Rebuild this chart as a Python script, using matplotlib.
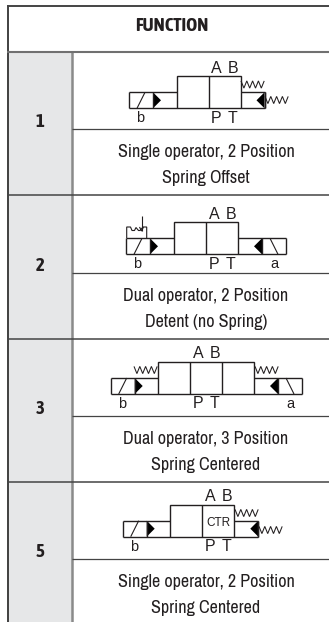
"""Valve function table: numbered rows with solenoid valve symbols."""
import matplotlib
matplotlib.use("Agg")
import matplotlib.pyplot as plt
from matplotlib.patches import Rectangle, Polygon

W, H = 329, 622
BODY = ['Archivo Narrow', 'Liberation Sans']
BOLD = ['Asap Condensed', 'Liberation Sans']
LABEL = ['Liberation Sans', 'DejaVu Sans']
DARK = '#231f20'

numbers = ['1', '2', '3', '5']
line1 = ['Single operator, 2 Position', 'Dual operator, 2 Position',
         'Dual operator, 3 Position', 'Single operator, 2 Position']
line2 = ['Spring Offset', 'Detent (no Spring)', 'Spring Centered', 'Spring Centered']

# row layout in pixels: row top, symbol/text split, row bottom
row_top = [52, 195, 339, 482]
row_mid = [129, 273, 416, 559]

# symbol layout: main block left edge, top, cells, left and right ends
sym_x = [176.5, 174.3, 158.3, 170.3]
sym_y = [76.3, 222.3, 362, 504.7]
sym_cells = [2, 2, 3, 2]
sym_left = [129, 126, 110.7, 122.7]
sym_right = [264.5, 286, 302, 258.3]
# port label x, P sits under A and T under B
port_a = [216, 214, 198, 210]
port_b = [233, 231, 215, 227]

fig = plt.figure(figsize=(W / 100, H / 100), dpi=100)
ax = fig.add_axes([0, 0, 1, 1])
ax.set_xlim(0, W)
ax.set_ylim(H, 0)
ax.axis('off')


def line(xs, ys, lw=0.9, color=DARK):
    ax.plot(xs, ys, color=color, lw=lw, solid_capstyle='butt', solid_joinstyle='miter')


def spring(x, y, n=4, step=5.8, amp=3.6):
    xs = [x + i * step / 2 for i in range(2 * n + 1)]
    ys = [y + (amp if i % 2 else -amp) for i in range(2 * n + 1)]
    line(xs, ys, lw=0.75)


def label(x, y, s, size=10.5):
    ax.text(x, y, s, family=LABEL, fontsize=size, color=DARK, ha='center', va='center')


def valve(x, y, cells, left, right, has_a, a_x, b_x):
    cw = 32
    mh = 32
    top = y + 16
    bot = y + mh
    right_main = x + cells * cw
    ax.add_patch(Rectangle((x, y), cells * cw, mh, fill=False, ec=DARK, lw=1.0))
    for i in range(1, cells):
        line([x + i * cw] * 2, [y, bot], lw=1.0)
    line([left, x], [top, top], lw=1.0)
    line([left, x], [bot, bot], lw=1.0)
    line([left, left], [top, bot], lw=1.0)
    line([right_main, right], [top, top], lw=1.0)
    line([right_main, right], [bot, bot], lw=1.0)
    line([right, right], [top, bot], lw=1.0)
    # solenoid b
    bx = left + 24
    ax.add_patch(Polygon([(bx, top), (bx + 8, top + 8), (bx, bot)], color='black', lw=0))
    line([bx, bx], [top, bot], lw=1.0)
    line([left + 8, left + 16], [bot, top], lw=0.8)
    label(left + 11.5, bot + 10, 'b')
    # right side triangle
    tx = right if not has_a else right - 24
    ax.add_patch(Polygon([(tx, top), (tx - 8, top + 8), (tx, bot)], color='black', lw=0))
    line([tx, tx], [top, bot], lw=1.0)
    if has_a:
        line([right - 16, right - 8], [top, bot], lw=0.8)
        label(right - 12, bot + 10, 'a')
    label(a_x, y - 8, 'A', 11.5)
    label(b_x, y - 8, 'B', 11.5)
    label(a_x, bot + 10, 'P', 11.5)
    label(b_x, bot + 10, 'T', 11.5)


# table frame, open on the right and at the bottom
ax.add_patch(Rectangle((7, 52), 65, H - 52, color='#e6e7e8', lw=0))
line([7.5, 7.5], [5, H], lw=1.3, color='#333333')
line([72, 72], [52, H], lw=1.8, color='#8a8a8a')
line([7, W], [5.5, 5.5], lw=1.4, color='#444444')
line([7, W], [52, 52], lw=1.5, color='#707070')
for y in row_top[1:]:
    line([7, W], [y, y], lw=1.1, color='#444444')
for y in row_mid:
    line([72, W], [y, y], lw=0.9, color='#444444')

ax.text(171.5, 26, 'FUNCTION', family=BOLD, fontsize=13.5, fontweight='bold', color=DARK, ha='center', va='center')

for i in range(4):
    ax.text(40, row_mid[i] - 7, numbers[i], family=BOLD, fontsize=13.5, fontweight='bold',
            color=DARK, ha='center', va='center')
    ax.text(206, row_mid[i] + 23, line1[i], family=BODY, fontsize=13, color=DARK, ha='center', va='center')
    ax.text(206, row_mid[i] + 49, line2[i], family=BODY, fontsize=13, color=DARK, ha='center', va='center')
    valve(sym_x[i], sym_y[i], sym_cells[i], sym_left[i], sym_right[i], i in (1, 2), port_a[i], port_b[i])

# springs and detent, different on every row
spring(241, 84.5)
spring(265, 100)
spring(134, 370)
spring(255, 370)
spring(235, 513)
spring(259, 530)
label(218, 522.5, 'CTR', 8.5)

# detent on row 2
line([126.7, 126.7, 130.5, 132, 134.5, 136, 138.5, 140, 143, 146.7, 146.7],
     [238, 227, 227, 230.5, 230.5, 227.5, 230.5, 230.5, 227, 227, 238], lw=0.8)
line([141.5, 141.5], [216, 231], lw=0.8)
line([139.5, 141.5, 143.5], [227, 231, 227], lw=0.8)

fig.savefig('out.png', dpi=100)
